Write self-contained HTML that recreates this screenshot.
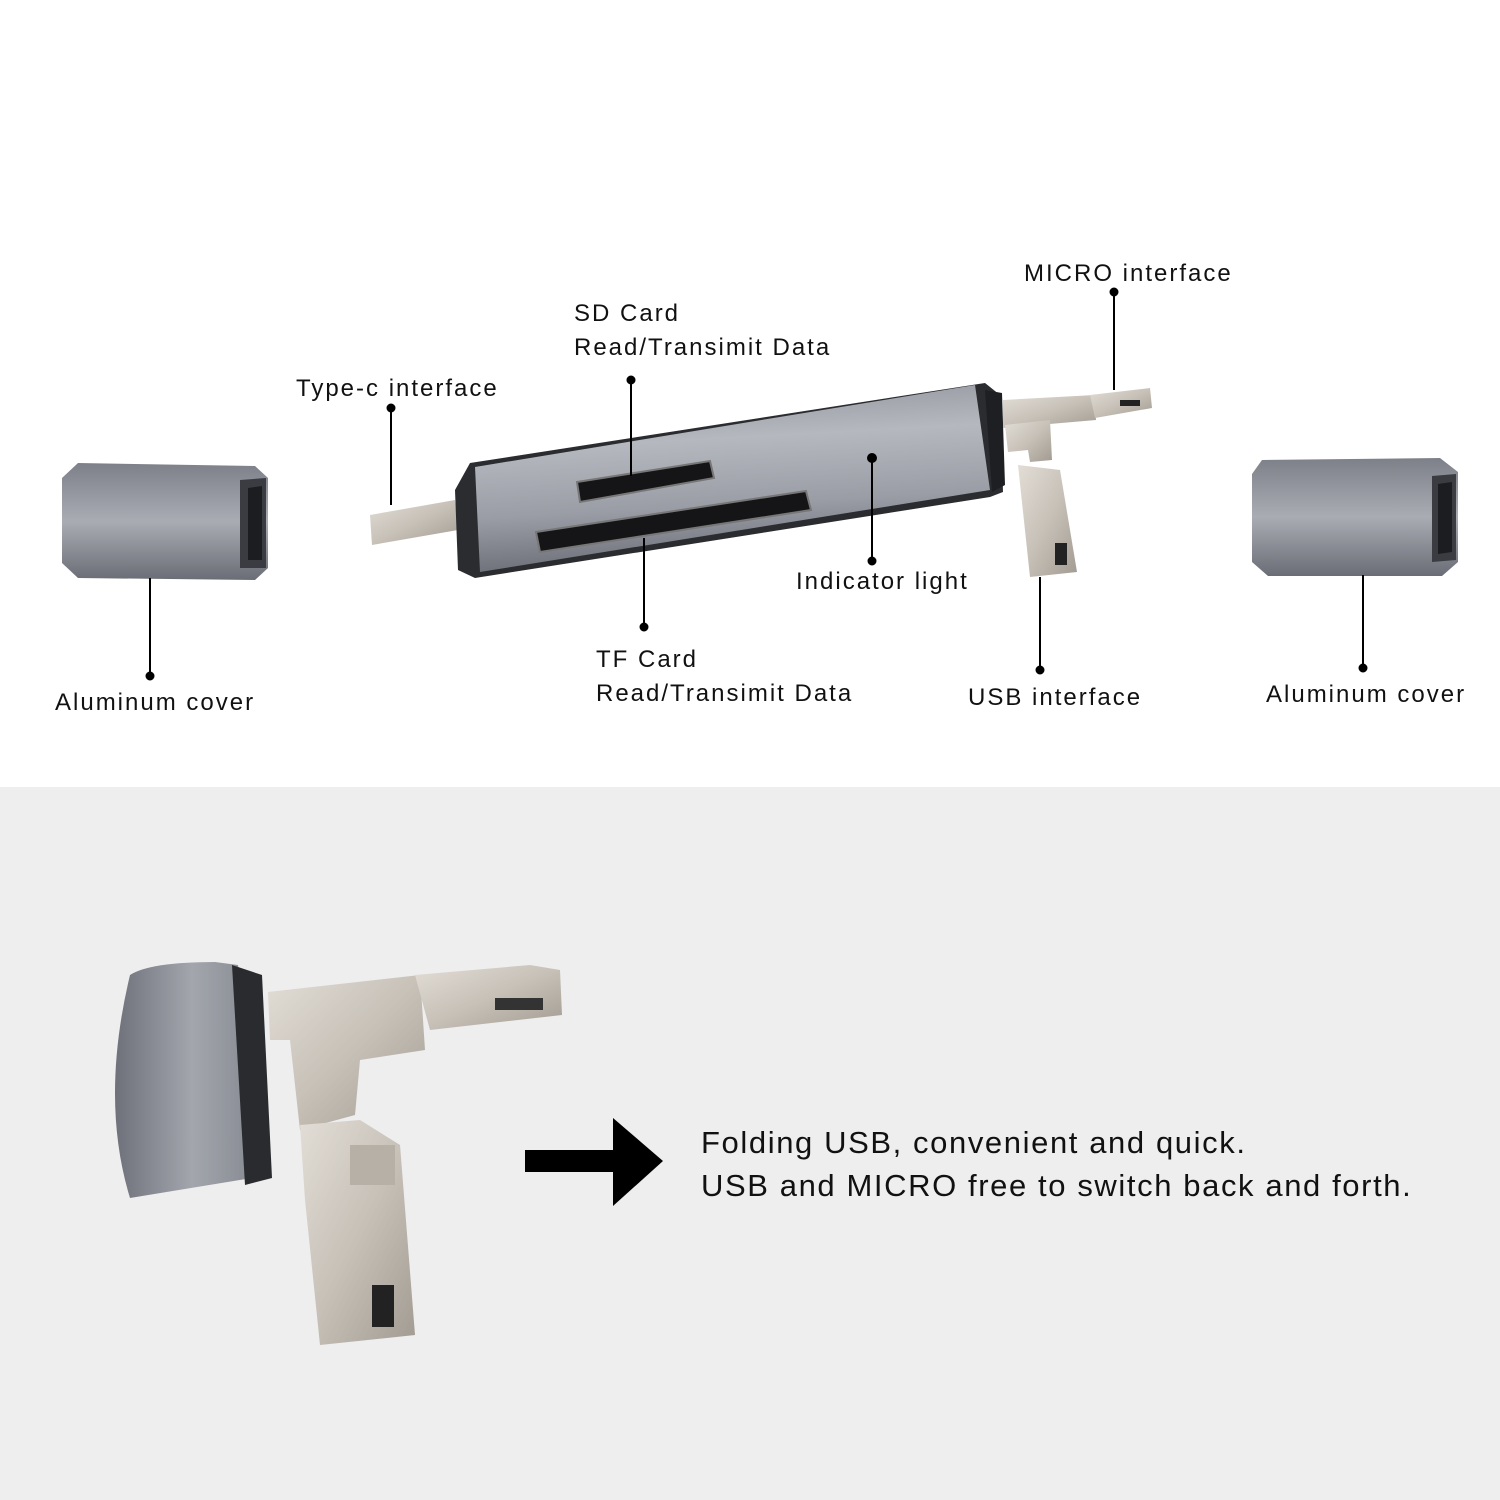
<!DOCTYPE html>
<html><head><meta charset="utf-8"><style>
html,body{margin:0;padding:0}
body{width:1500px;height:1500px;position:relative;background:#fff;font-family:"Liberation Sans",sans-serif;overflow:hidden}
</style></head><body>
<svg width="1500" height="1500" viewBox="0 0 1500 1500" style="position:absolute;left:0;top:0">
<defs>
<linearGradient id="body" x1="0" y1="0" x2="0.15" y2="1">
<stop offset="0" stop-color="#8d9098"/><stop offset="0.35" stop-color="#b5b8bf"/><stop offset="0.7" stop-color="#9a9da5"/><stop offset="1" stop-color="#6d7078"/></linearGradient>
<linearGradient id="cov" x1="0" y1="0" x2="0" y2="1">
<stop offset="0" stop-color="#7d8088"/><stop offset="0.5" stop-color="#a9acb3"/><stop offset="1" stop-color="#6a6d75"/></linearGradient>
<linearGradient id="metal" x1="0" y1="0" x2="1" y2="1">
<stop offset="0" stop-color="#e2ddd6"/><stop offset="0.5" stop-color="#c7c1b8"/><stop offset="1" stop-color="#a19b92"/></linearGradient>
<linearGradient id="big" x1="0" y1="0" x2="1" y2="0">
<stop offset="0" stop-color="#6e717a"/><stop offset="0.5" stop-color="#a3a6ad"/><stop offset="1" stop-color="#80838b"/></linearGradient>
</defs>
<rect x="0" y="787" width="1500" height="713" fill="#eeeeee"/>

<polygon points="62,478 78,463 255,466 268,478 268,568 255,580 78,578 62,563" fill="url(#cov)"/>
<polygon points="240,480 266,478 266,568 240,568" fill="#3a3c42"/>
<polygon points="248,488 262,486 262,560 248,560" fill="#1c1d21"/>
<polygon points="1252,474 1262,460 1440,458 1458,472 1458,562 1442,576 1268,576 1252,562" fill="url(#cov)"/>
<polygon points="1432,476 1456,474 1456,560 1432,562" fill="#3a3c42"/>
<polygon points="1438,484 1452,482 1452,552 1438,554" fill="#1c1d21"/>

<polygon points="370,515 455,500 458,530 372,545" fill="url(#metal)"/>
<polygon points="455,490 470,463 985,383 1000,395 1003,492 990,497 475,578 458,570" fill="#2b2c30"/>
<polygon points="475,467 975,385 990,490 480,572" fill="url(#body)"/>
<polygon points="985,390 1002,393 1005,485 992,492" fill="#1e1f22"/>
<polygon points="577,482 710,461 714,478 580,502" fill="#151518" stroke="#777" stroke-width="2"/>
<polygon points="536,532 806,491 811,510 540,552" fill="#151518" stroke="#777" stroke-width="2"/>
<polygon points="1003,400 1095,395 1096,420 1003,428" fill="url(#metal)"/>
<polygon points="1090,395 1150,388 1152,408 1095,418" fill="url(#metal)"/>
<rect x="1120" y="400" width="20" height="6" fill="#222"/>
<polygon points="1005,425 1050,420 1052,460 1030,462 1028,450 1008,452" fill="url(#metal)"/>
<polygon points="1018,465 1060,470 1077,572 1030,577" fill="url(#metal)"/>
<rect x="1055" y="543" width="12" height="22" fill="#222"/>

<g stroke="#000" stroke-width="2" fill="#000">
<line x1="150" y1="578" x2="150" y2="676"/><circle cx="150" cy="676" r="3.5"/>
<line x1="391" y1="408" x2="391" y2="505"/><circle cx="391" cy="408" r="3.5"/>
<line x1="631" y1="380" x2="631" y2="476"/><circle cx="631" cy="380" r="3.5"/>
<line x1="644" y1="538" x2="644" y2="627"/><circle cx="644" cy="627" r="3.5"/>
<line x1="872" y1="458" x2="872" y2="561"/><circle cx="872" cy="458" r="4"/><circle cx="872" cy="561" r="3.5"/>
<line x1="1114" y1="292" x2="1114" y2="390"/><circle cx="1114" cy="292" r="3.5"/>
<line x1="1040" y1="577" x2="1040" y2="670"/><circle cx="1040" cy="670" r="3.5"/>
<line x1="1363" y1="575" x2="1363" y2="668"/><circle cx="1363" cy="668" r="3.5"/>
</g>

<g font-family="Liberation Sans, sans-serif" font-size="24" fill="#111" letter-spacing="2">
<text x="55" y="710">Aluminum cover</text>
<text x="296" y="396">Type-c interface</text>
<text x="574" y="321">SD Card</text>
<text x="574" y="355">Read/Transimit Data</text>
<text x="796" y="589">Indicator light</text>
<text x="596" y="667">TF Card</text>
<text x="596" y="701">Read/Transimit Data</text>
<text x="1024" y="281">MICRO interface</text>
<text x="968" y="705">USB interface</text>
<text x="1266" y="702">Aluminum cover</text>
</g>

<path d="M130,975 Q150,962 215,962 L238,965 L270,1175 L130,1198 Q100,1100 130,975 Z" fill="url(#big)"/>
<polygon points="232,965 262,975 272,1178 245,1185" fill="#2a2b2f"/>
<polygon points="268,992 420,975 425,1050 360,1060 355,1115 300,1130 290,1040 270,1040" fill="url(#metal)"/>
<polygon points="415,975 530,965 560,970 562,1015 430,1030" fill="url(#metal)"/>
<rect x="495" y="998" width="48" height="12" fill="#333"/>
<polygon points="300,1125 360,1120 400,1145 415,1335 320,1345 305,1200" fill="url(#metal)"/>
<rect x="372" y="1285" width="22" height="42" fill="#222"/>
<rect x="350" y="1145" width="45" height="40" fill="#b7b0a6"/>

<rect x="525" y="1150" width="92" height="22" fill="#000"/>
<polygon points="613,1118 663,1161 613,1206" fill="#000"/>
<g font-family="Liberation Sans, sans-serif" font-size="31" fill="#111" letter-spacing="1.6">
<text x="701" y="1153">Folding USB, convenient and quick.</text>
<text x="701" y="1196">USB and MICRO free to switch back and forth.</text>
</g>
</svg>
</body></html>
